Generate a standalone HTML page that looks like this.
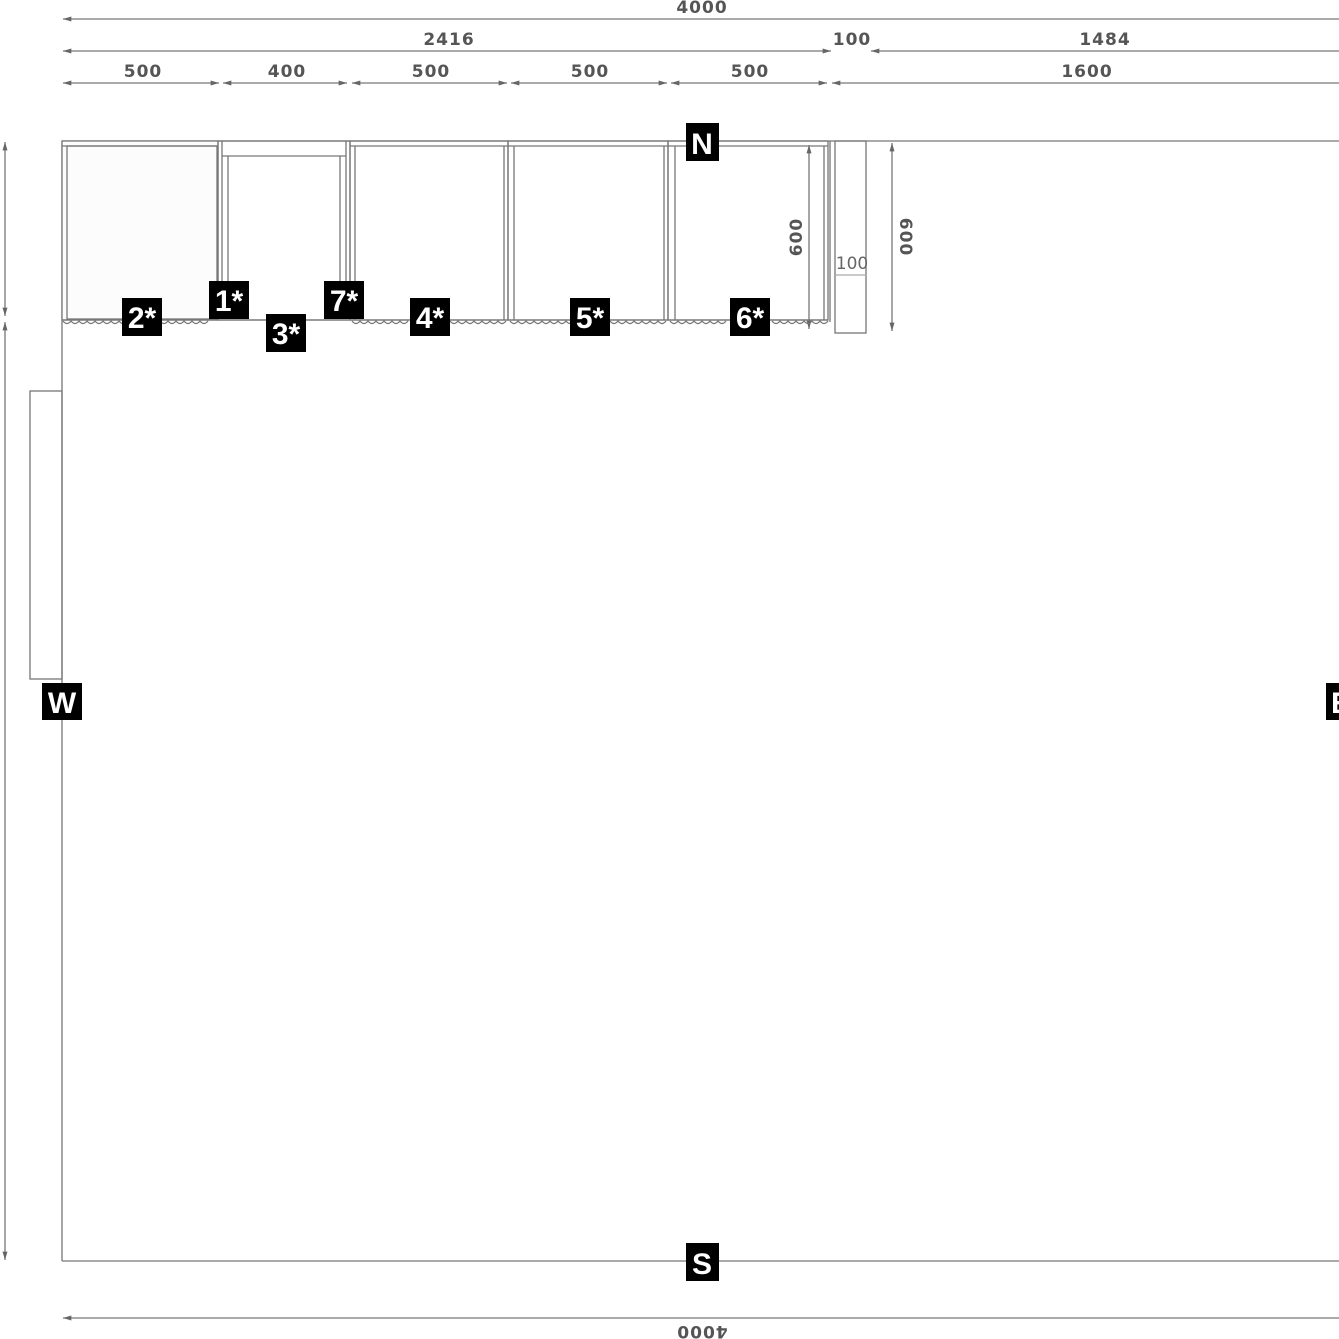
<!DOCTYPE html>
<html><head><meta charset="utf-8"><style>
html,body{margin:0;padding:0;background:#fff;width:1339px;height:1339px;overflow:hidden}
svg{display:block}
.d{font-family:"DejaVu Sans","Liberation Sans",sans-serif;font-weight:bold;font-size:17px;letter-spacing:1px;fill:#555;text-anchor:middle}
.b{font-family:"Liberation Sans",sans-serif;font-weight:bold;font-size:30px;fill:#fff;text-anchor:middle}
</style></head><body>
<svg width="1339" height="1339" viewBox="0 0 1339 1339" xmlns="http://www.w3.org/2000/svg">
<defs>
<marker id="a" viewBox="0 0 10 6" refX="10" refY="3" markerWidth="14" markerHeight="5" orient="auto-start-reverse" markerUnits="userSpaceOnUse"><path d="M0,0 L10,3 L0,6z" fill="#666"/></marker>
</defs>
<g stroke="#777" stroke-width="1.3" fill="none">
<line x1="63" y1="19" x2="1339" y2="19" marker-start="url(#a)"/>
<line x1="63" y1="51" x2="831" y2="51" marker-start="url(#a)" marker-end="url(#a)"/>
<line x1="871" y1="51" x2="1339" y2="51" marker-start="url(#a)"/>
<line x1="63" y1="83" x2="219" y2="83" marker-start="url(#a)" marker-end="url(#a)"/>
<line x1="223" y1="83" x2="347" y2="83" marker-start="url(#a)" marker-end="url(#a)"/>
<line x1="352" y1="83" x2="507" y2="83" marker-start="url(#a)" marker-end="url(#a)"/>
<line x1="511" y1="83" x2="667" y2="83" marker-start="url(#a)" marker-end="url(#a)"/>
<line x1="671" y1="83" x2="827" y2="83" marker-start="url(#a)" marker-end="url(#a)"/>
<line x1="832" y1="83" x2="1339" y2="83" marker-start="url(#a)"/>
<line x1="5" y1="142" x2="5" y2="316" marker-start="url(#a)" marker-end="url(#a)"/>
<line x1="5" y1="322" x2="5" y2="1260" marker-start="url(#a)" marker-end="url(#a)"/>
<line x1="809" y1="145" x2="809" y2="329" marker-start="url(#a)" marker-end="url(#a)"/>
<line x1="892" y1="143" x2="892" y2="331" marker-start="url(#a)" marker-end="url(#a)"/>
<line x1="63" y1="1318" x2="1339" y2="1318" marker-start="url(#a)"/>
<line x1="62" y1="141" x2="1339" y2="141"/>
<line x1="62" y1="141" x2="62" y2="1261"/>
<line x1="62" y1="1261" x2="1339" y2="1261"/>
<rect x="30" y="391" width="32" height="288"/>
<rect x="62" y="141" width="156" height="179" fill="#fdfcfc"/>
<rect x="67" y="146" width="150" height="173"/>
<line x1="62" y1="146" x2="218" y2="146"/>
<rect x="218" y="141" width="132" height="179"/>
<line x1="222" y1="156" x2="346" y2="156"/>
<line x1="222" y1="141" x2="222" y2="306"/><line x1="228" y1="156" x2="228" y2="306"/>
<line x1="346" y1="141" x2="346" y2="306"/><line x1="340" y1="156" x2="340" y2="306"/>
<rect x="350" y="141" width="158" height="179"/>
<line x1="355" y1="146" x2="355" y2="320"/><line x1="350" y1="146" x2="508" y2="146"/>
<line x1="504" y1="146" x2="504" y2="320"/>
<rect x="508" y="141" width="160" height="179"/>
<line x1="514" y1="146" x2="514" y2="320"/><line x1="508" y1="146" x2="668" y2="146"/>
<line x1="664" y1="146" x2="664" y2="320"/>
<rect x="668" y="141" width="160" height="179"/>
<line x1="675" y1="146" x2="675" y2="320"/><line x1="668" y1="146" x2="828" y2="146"/>
<line x1="824" y1="146" x2="824" y2="320"/>
<line x1="830" y1="141" x2="830" y2="322"/>
<rect x="835" y="141" width="31" height="192"/>
<line x1="835" y1="275" x2="866" y2="275" stroke="#aaa"/>
<path d="M63,321 q4,5 8,0 q4,5 8,0 q4,5 8,0 q4,5 8,0 q4,5 8,0 q4,5 8,0 q4,5 8,0 q4,5 8,0 M160,321 q4,5 8,0 q4,5 8,0 q4,5 8,0 q4,5 8,0 q4,5 8,0 q4,5 8,0 M352,321 q4,5 8,0 q4,5 8,0 q4,5 8,0 q4,5 8,0 q4,5 8,0 q4,5 8,0 q4,5 8,0 M450,321 q4,5 8,0 q4,5 8,0 q4,5 8,0 q4,5 8,0 q4,5 8,0 q4,5 8,0 q4,5 8,0 M510,321 q4,5 8,0 q4,5 8,0 q4,5 8,0 q4,5 8,0 q4,5 8,0 q4,5 8,0 q4,5 8,0 q4,5 8,0 M610,321 q4,5 8,0 q4,5 8,0 q4,5 8,0 q4,5 8,0 q4,5 8,0 q4,5 8,0 q4,5 8,0 M670,321 q4,5 8,0 q4,5 8,0 q4,5 8,0 q4,5 8,0 q4,5 8,0 q4,5 8,0 q4,5 8,0 M772,321 q4,5 8,0 q4,5 8,0 q4,5 8,0 q4,5 8,0 q4,5 8,0 q4,5 8,0 q4,5 8,0"/>
<line x1="62" y1="320" x2="828" y2="320"/>
</g>
<text class="d" x="702" y="13">4000</text>
<text class="d" x="449" y="45">2416</text>
<text class="d" x="852" y="45">100</text>
<text class="d" x="1105" y="45">1484</text>
<text class="d" x="143" y="77">500</text>
<text class="d" x="287" y="77">400</text>
<text class="d" x="431" y="77">500</text>
<text class="d" x="590" y="77">500</text>
<text class="d" x="750" y="77">500</text>
<text class="d" x="1087" y="77">1600</text>
<text class="d" transform="translate(802,237) rotate(-90)">600</text>
<text class="d" transform="translate(900,237) rotate(90)">600</text>
<text class="d" x="852" y="269" style="font-weight:normal;fill:#666;letter-spacing:0">100</text>
<text class="d" transform="translate(702,1326) rotate(180)">4000</text>
<g fill="#000">
<rect x="122" y="298" width="40" height="38"/>
<rect x="209" y="281" width="40" height="38"/>
<rect x="266" y="314" width="40" height="38"/>
<rect x="324" y="281" width="40" height="38"/>
<rect x="410" y="298" width="40" height="38"/>
<rect x="570" y="298" width="40" height="38"/>
<rect x="730" y="298" width="40" height="38"/>
<rect x="686" y="123" width="33" height="38"/>
<rect x="686" y="1243" width="33" height="38"/>
<rect x="42" y="683" width="40" height="37"/>
<rect x="1326" y="683" width="20" height="37"/>
</g>
<text class="b" x="142" y="328">2*</text>
<text class="b" x="229" y="311">1*</text>
<text class="b" x="286" y="344">3*</text>
<text class="b" x="344" y="311">7*</text>
<text class="b" x="430" y="328">4*</text>
<text class="b" x="590" y="328">5*</text>
<text class="b" x="750" y="328">6*</text>
<text class="b" x="702" y="154">N</text>
<text class="b" x="702" y="1274">S</text>
<text class="b" x="62" y="713">W</text>
<text class="b" x="1331" y="713" style="text-anchor:start">E</text>
</svg>
</body></html>
